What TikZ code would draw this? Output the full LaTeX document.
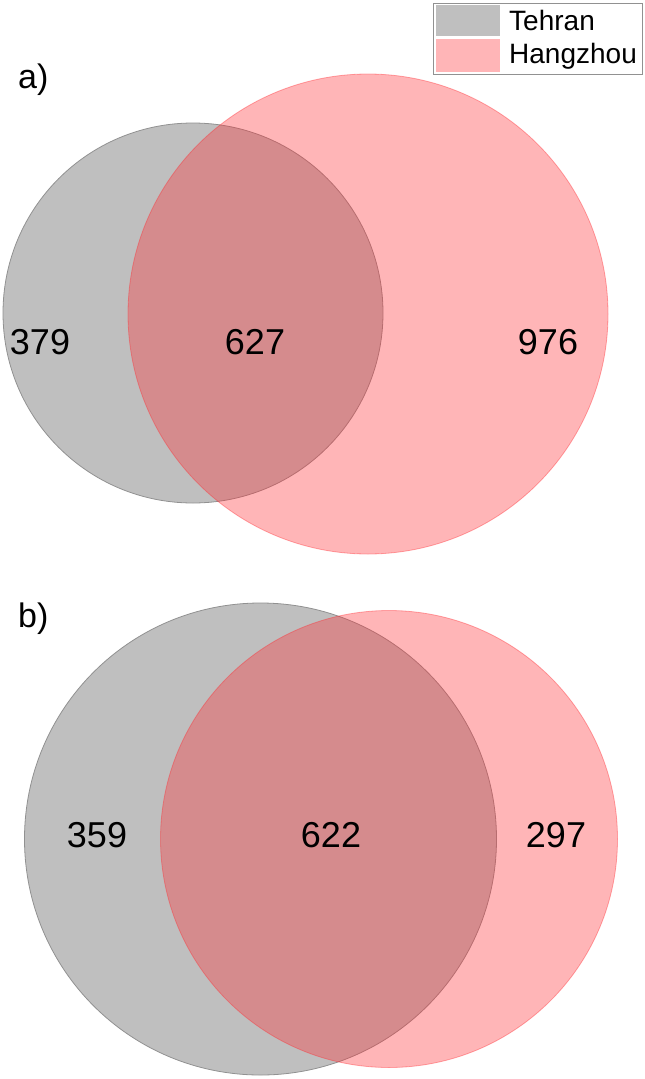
\documentclass[tikz,border=0pt]{standalone}
\usepackage{fontspec}
\setmainfont{Liberation Sans}
\definecolor{tgray}{RGB}{191,191,191}
\definecolor{tgrayedge}{RGB}{145,145,145}
\definecolor{hpink}{RGB}{255,43,49}
\begin{document}
\begin{tikzpicture}[x=1pt,y=-1pt,
  tset/.style={fill=tgray,draw=tgrayedge,line width=0.8pt},
  hset/.style={fill=hpink,fill opacity=0.35,draw=hpink,draw opacity=0.4,line width=0.8pt},
  num/.style={font=\fontsize{36}{40}\selectfont,inner sep=0pt},
  panel/.style={font=\fontsize{34}{38}\selectfont,inner sep=0pt,anchor=base west},
  legtxt/.style={font=\fontsize{28}{32}\selectfont,inner sep=0pt,anchor=west}]
\useasboundingbox (0,0) rectangle (645,1079);
% panel a
\path[tset] (193,313) circle[radius=190];
\path[hset] (368,314) circle[radius=240];
\node[panel] (la) at (18,88) {a)};
\node[num] (a1) at (40,342) {379};
\node[num] (a2) at (255,342) {627};
\node[num] (a3) at (548,342) {976};
% panel b
\path[tset] (260.5,839) circle[radius=236];
\path[hset] (389,839) circle[radius=228.5];
\node[panel] (lb) at (18,627) {b)};
\node[num] (b1) at (97,835) {359};
\node[num] (b2) at (331,835) {622};
\node[num] (b3) at (556,835) {297};
% legend
\draw[draw=tgrayedge,line width=0.8pt,fill=white] (433,3) rectangle (642,74);
\fill[tgray] (436,5) rectangle (500,36);
\fill[hpink,opacity=0.35] (436,39) rectangle (500,72);
\node[legtxt] (lt) at (509,20) {Tehran};
\node[legtxt] (lh) at (509,56) {Hangzhou};
\end{tikzpicture}
\end{document}
